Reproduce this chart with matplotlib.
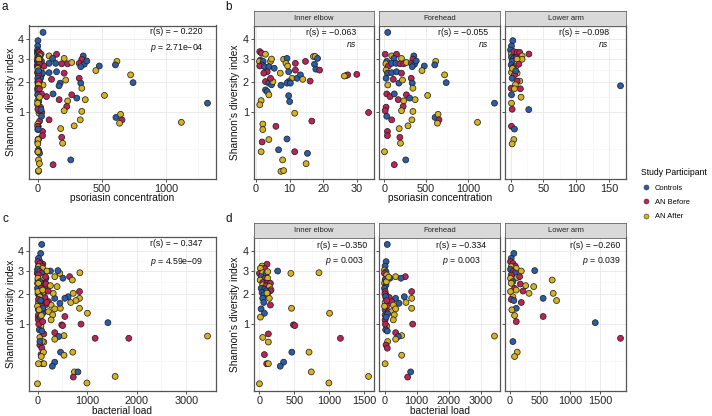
import numpy as np
import matplotlib.pyplot as plt
from matplotlib.lines import Line2D

plt.rcParams['font.family'] = ['Liberation Sans', 'DejaVu Sans']
plt.rcParams['mathtext.fontset'] = 'custom'
plt.rcParams['mathtext.it'] = 'Liberation Sans:italic'
plt.rcParams['mathtext.rm'] = 'Liberation Sans'

W, H = 712, 416

# grupos: C = Controls, B = AN Before, A = AN After
grupos = ['Controls', 'AN Before', 'AN After']
codigos = ['C', 'B', 'A']
colores = {'C': '#2A5CA8', 'B': '#BE2259', 'A': '#D6B21E'}

sitios = ['Inner elbow', 'Forehead', 'Lower arm']

# psoriasina (x) vs Shannon (y)
pso_elbow = [
    (1.1, 3.34, 'B'), (1.6, 3.26, 'B'), (2.8, 3.21, 'A'), (1.3, 2.93, 'C'), (1.0, 2.87, 'A'),
    (2.1, 2.87, 'C'), (1.8, 2.71, 'C'), (1.1, 2.66, 'B'), (2.5, 2.63, 'C'), (4.3, 2.87, 'A'),
    (4.6, 2.98, 'A'), (3.8, 2.63, 'C'), (5.4, 2.56, 'C'), (3.3, 2.41, 'B'), (2.3, 2.35, 'B'),
    (2.8, 2.01, 'B'), (3.8, 1.95, 'C'), (4.6, 1.89, 'C'), (5.0, 2.01, 'A'), (4.3, 2.14, 'B'),
    (2.8, 1.70, 'C'), (3.3, 1.64, 'C'), (3.8, 1.53, 'A'), (1.5, 1.34, 'A'), (1.1, 1.21, 'A'),
    (8.2, 2.97, 'A'), (9.2, 3.01, 'C'), (8.9, 2.78, 'A'), (9.4, 2.66, 'A'), (11.7, 2.78, 'B'),
    (11.7, 2.48, 'B'), (9.7, 2.41, 'C'), (7.2, 2.35, 'A'), (10.7, 2.14, 'A'), (9.7, 2.01, 'C'),
    (9.2, 1.95, 'C'), (10.2, 1.95, 'C'), (12.2, 2.14, 'C'), (13.2, 2.28, 'C'), (13.9, 2.10, 'A'),
    (7.4, 1.87, 'C'), (9.7, 1.50, 'C'), (10.0, 1.31, 'C'), (11.5, 0.97, 'A'), (14.7, 2.87, 'B'),
    (17.1, 3.10, 'A'), (17.6, 3.10, 'A'), (18.3, 3.01, 'C'), (17.4, 2.74, 'C'), (17.8, 2.52, 'C'),
    (18.9, 2.48, 'B'), (16.1, 2.03, 'B'), (16.6, 0.77, 'B'), (26.8, 2.25, 'B'), (27.3, 2.28, 'B'),
    (26.3, 2.23, 'A'), (30.0, 2.30, 'B'), (33.5, 0.99, 'B'), (2.0, 0.70, 'A'), (2.0, 0.58, 'A'),
    (5.9, 0.65, 'B'), (3.8, 0.39, 'A'), (1.8, 0.35, 'B'), (1.5, 0.21, 'A'), (9.2, 0.40, 'C'),
    (6.7, 0.235, 'C'), (7.9, 0.12, 'A'), (11.5, 0.21, 'B'), (15.3, 0.19, 'C'), (14.9, 0.087, 'A'),
    (7.4, 0.036, 'A'), (8.2, 0.04, 'A'),
]
pso_forehead = [
    (43, 4.37, 'C'), (12, 3.21, 'B'), (90, 3.13, 'A'), (148, 3.21, 'B'), (117, 3.01, 'C'),
    (207, 3.01, 'A'), (355, 3.13, 'C'), (344, 2.97, 'B'), (31, 2.87, 'C'), (20, 2.76, 'A'),
    (51, 2.66, 'B'), (90, 2.78, 'C'), (141, 2.78, 'C'), (188, 2.76, 'B'), (234, 2.76, 'B'),
    (266, 2.82, 'A'), (324, 2.78, 'B'), (363, 2.74, 'C'), (383, 2.89, 'C'), (336, 2.63, 'C'),
    (480, 2.66, 'C'), (453, 2.46, 'A'), (617, 2.87, 'A'), (605, 2.71, 'C'), (723, 2.28, 'A'),
    (742, 1.97, 'C'), (23, 2.48, 'A'), (39, 2.35, 'C'), (90, 2.37, 'C'), (148, 2.41, 'C'),
    (207, 2.35, 'B'), (23, 2.14, 'C'), (43, 1.88, 'A'), (109, 2.10, 'B'), (176, 1.95, 'C'),
    (324, 2.14, 'B'), (336, 1.95, 'C'), (219, 2.07, 'A'), (344, 1.76, 'A'), (31, 1.56, 'B'),
    (70, 1.47, 'B'), (121, 1.56, 'C'), (168, 1.37, 'B'), (234, 1.33, 'A'), (266, 1.53, 'B'),
    (305, 1.42, 'C'), (371, 1.37, 'A'), (227, 1.16, 'B'), (207, 1.04, 'A'), (344, 1.02, 'A'),
    (23, 1.14, 'B'), (12, 1.04, 'B'), (31, 0.89, 'C'), (90, 0.80, 'B'), (332, 0.80, 'A'),
    (285, 0.66, 'A'), (180, 0.60, 'A'), (39, 0.54, 'B'), (39, 0.46, 'B'), (188, 0.43, 'B'),
    (195, 0.33, 'A'), (4, 0.21, 'A'), (121, 0.079, 'B'), (258, 0.12, 'C'), (520, 1.51, 'A'),
    (609, 0.86, 'C'), (645, 0.94, 'A'), (656, 0.80, 'B'), (637, 0.72, 'A'), (1117, 0.74, 'A'),
    (1320, 1.26, 'C'),
]
pso_lowerarm = [
    (3.5, 3.91, 'C'), (1.5, 3.63, 'C'), (0, 3.42, 'C'), (1.5, 3.22, 'A'), (5, 3.34, 'B'),
    (10, 3.30, 'B'), (14, 3.30, 'B'), (28, 3.22, 'B'), (17.6, 3.13, 'A'), (17.6, 2.97, 'A'),
    (1.5, 3.06, 'C'), (5, 3.01, 'C'), (8.6, 3.04, 'B'), (2.5, 2.87, 'C'), (10, 2.97, 'A'),
    (1, 2.71, 'C'), (7.5, 2.63, 'A'), (12.6, 2.74, 'B'), (5, 2.48, 'C'), (1.5, 2.38, 'A'),
    (10, 2.35, 'A'), (6, 2.28, 'B'), (2.5, 2.14, 'C'), (14, 2.03, 'A'), (10, 2.03, 'B'),
    (7.5, 1.89, 'A'), (1, 1.76, 'B'), (6, 1.74, 'A'), (15, 1.74, 'B'), (1.5, 1.53, 'C'),
    (16, 1.45, 'A'), (1.5, 1.26, 'A'), (2.5, 1.08, 'B'), (27.7, 1.07, 'C'), (167, 1.85, 'C'),
    (1.5, 0.65, 'B'), (6, 0.59, 'C'), (5, 0.39, 'A'), (2.5, 0.32, 'A'), (4, 2.60, 'B'),
    (3, 2.55, 'A'), (8, 2.45, 'C'),
]

# carga bacteriana (x) vs Shannon (y)
bac_elbow = [
    (109, 3.31, 'B'), (38, 3.22, 'A'), (71, 3.11, 'B'), (14, 3.11, 'A'), (261, 2.98, 'C'),
    (451, 2.87, 'A'), (855, 2.90, 'A'), (0, 2.87, 'B'), (47, 2.90, 'A'), (95, 2.87, 'C'),
    (119, 2.95, 'A'), (24, 2.72, 'C'), (81, 2.65, 'B'), (119, 2.65, 'A'), (9.5, 2.57, 'A'),
    (47, 2.46, 'B'), (109, 2.43, 'B'), (157, 2.43, 'B'), (47, 2.36, 'A'), (95, 2.33, 'B'),
    (142, 2.29, 'A'), (166, 2.16, 'A'), (157, 2.12, 'B'), (24, 2.22, 'C'), (71, 2.18, 'C'),
    (95, 2.12, 'C'), (38, 2.05, 'C'), (119, 2.03, 'C'), (62, 1.96, 'C'), (47, 1.83, 'C'),
    (109, 2.03, 'A'), (142, 1.83, 'A'), (157, 1.59, 'B'), (62, 1.68, 'C'), (24, 1.46, 'C'),
    (71, 1.32, 'C'), (14, 1.20, 'A'), (461, 1.48, 'A'), (1007, 1.32, 'A'), (489, 0.98, 'B'),
    (508, 0.96, 'B'), (47, 0.67, 'A'), (128, 0.75, 'B'), (128, 0.57, 'A'), (1163, 0.65, 'B'),
    (71, 0.34, 'B'), (104, 0.21, 'B'), (128, 0.21, 'A'), (465, 0.38, 'C'), (347, 0.23, 'C'),
    (299, 0.18, 'C'), (712, 0.38, 'A'), (745, 0.12, 'A'), (997, 0.038, 'A'), (1567, 0.081, 'A'),
    (0, 0.034, 'A'),
]
bac_forehead = [
    (86, 4.37, 'C'), (50, 3.44, 'C'), (19, 3.22, 'C'), (0, 3.03, 'A'), (47, 2.95, 'C'),
    (0, 2.87, 'B'), (68, 2.80, 'A'), (348, 2.72, 'A'), (649, 2.72, 'B'), (514, 2.65, 'C'),
    (171, 2.65, 'C'), (19, 2.57, 'B'), (0, 2.43, 'A'), (47, 2.36, 'C'), (0, 2.22, 'C'),
    (19, 2.09, 'B'), (847, 2.09, 'B'), (47, 1.96, 'C'), (47, 1.83, 'A'), (618, 1.89, 'C'),
    (847, 1.83, 'A'), (151, 1.86, 'B'), (348, 1.83, 'C'), (223, 1.71, 'B'), (670, 1.68, 'A'),
    (452, 1.65, 'C'), (275, 1.59, 'A'), (19, 1.68, 'A'), (68, 1.56, 'B'), (19, 1.43, 'C'),
    (120, 1.37, 'B'), (223, 1.37, 'A'), (348, 1.46, 'A'), (19, 1.27, 'B'), (99, 1.30, 'C'),
    (306, 1.27, 'A'), (847, 1.48, 'A'), (19, 1.12, 'B'), (275, 1.12, 'A'), (878, 1.00, 'B'),
    (68, 0.95, 'A'), (36, 0.85, 'C'), (88, 0.82, 'C'), (348, 0.78, 'B'), (535, 0.71, 'A'),
    (431, 0.69, 'C'), (348, 0.63, 'A'), (99, 0.58, 'A'), (47, 0.51, 'B'), (88, 0.45, 'B'),
    (535, 0.33, 'A'), (19, 0.21, 'A'), (816, 0.12, 'C'), (722, 0.076, 'B'), (3430, 0.70, 'A'),
    (30, 2.60, 'C'), (60, 2.50, 'A'), (10, 2.00, 'B'), (35, 1.90, 'C'), (70, 1.75, 'B'),
    (0, 1.55, 'A'), (50, 1.20, 'C'), (25, 1.00, 'B'), (130, 2.70, 'A'),
]
bac_lowerarm = [
    (64, 3.87, 'C'), (20, 3.61, 'C'), (8, 3.44, 'B'), (48, 3.35, 'B'), (87, 3.22, 'B'),
    (20, 3.19, 'A'), (104, 3.11, 'A'), (8, 3.06, 'C'), (48, 2.95, 'B'), (188, 2.98, 'A'),
    (412, 3.00, 'C'), (87, 2.87, 'C'), (20, 2.80, 'B'), (115, 2.68, 'A'), (160, 2.72, 'B'),
    (8, 2.65, 'A'), (48, 2.50, 'C'), (20, 2.43, 'A'), (171, 2.40, 'B'), (261, 2.33, 'A'),
    (395, 2.29, 'A'), (703, 2.57, 'A'), (76, 2.22, 'B'), (8, 2.09, 'A'), (104, 2.15, 'A'),
    (317, 2.02, 'A'), (720, 2.02, 'A'), (216, 2.11, 'B'), (48, 1.89, 'A'), (20, 1.79, 'B'),
    (64, 1.75, 'C'), (552, 1.83, 'C'), (776, 1.75, 'A'), (188, 1.68, 'B'), (104, 1.48, 'C'),
    (31, 1.43, 'A'), (76, 1.25, 'A'), (552, 1.22, 'B'), (104, 1.07, 'B'), (1421, 1.04, 'C'),
    (1842, 0.65, 'B'), (48, 0.58, 'C'), (120, 0.38, 'A'), (76, 0.31, 'A'),
]

# ticks de cada panel
yticks = [1, 2, 3, 4]
xt_a = [0, 500, 1000]
xt_b = [[0, 10, 20, 30], [0, 500, 1000], [0, 50, 100, 150]]
xt_c = [0, 1000, 2000, 3000]
xt_d = [[0, 500, 1000, 1500], [0, 1000, 2000, 3000], [0, 500, 1000, 1500]]

# textos de Spearman
txt_a = ['r(s) = − 0.220', r'$p$ = 2.71e−04']
txt_b = [['r(s) = −0.063', 'ns'], ['r(s) = −0.055', 'ns'], ['r(s) = −0.098', 'ns']]
txt_c = ['r(s) = − 0.347', r'$p$ = 4.59e−09']
txt_d = [['r(s) = −0.350', r'$p$ = 0.003'], ['r(s) = −0.334', r'$p$ = 0.003'],
         ['r(s) = −0.260', r'$p$ = 0.039']]


def rect(x0, y0, x1, y1):
    return [x0 / W, 1 - y1 / H, (x1 - x0) / W, (y1 - y0) / H]


def fwd(v):
    return np.sqrt(np.clip(v, 0, None))


def inv(s):
    return np.square(s)


def minores(t, lo, hi):
    d = t[1] - t[0]
    m = [v + d / 2 for v in [t[0] - d] + list(t)]
    return [v for v in m if lo < v < hi]


def panel(ax, pts, xt, ylab=False):
    x, y, g = zip(*pts)
    ax.set_yscale('function', functions=(fwd, inv))
    ax.scatter(x, y, c=[colores[k] for k in g], s=18, edgecolors='#222222',
               linewidths=0.55, zorder=3)
    lo, hi = min(x), max(x)
    pad = 0.05 * (hi - lo)
    ax.set_xticks(xt)
    ax.set_xticks(minores(xt, lo - pad, hi + pad), minor=True)
    ax.set_xlim(lo - pad, hi + pad)
    ax.set_yticks(yticks)
    ax.set_yticks([0.25, 1.457, 2.475, 3.482], minor=True)
    ax.set_ylim(0.092 ** 2, 2.185 ** 2)
    if not ylab:
        ax.set_yticklabels([])
        ax.tick_params(axis='y', which='major', length=0)
    ax.grid(which='major', color='#EBEBEB', lw=0.7)
    ax.grid(which='minor', color='#F3F3F3', lw=0.4)
    ax.set_axisbelow(True)
    ax.tick_params(which='minor', length=0)
    ax.tick_params(which='major', length=2.5, width=0.6, color='#333333',
                   labelsize=7.8, pad=1.2, labelcolor='#222222')
    for s in ax.spines.values():
        s.set_color('#555555')
        s.set_linewidth(0.9)


def etiquetas(ax, textos, xr, y1, y2):
    ax.text(xr[0], 1 - y1, textos[0], transform=ax.transAxes, ha='right', va='center',
            fontsize=6.3, color='#111111', zorder=5)
    estilo = 'italic' if textos[1] == 'ns' else 'normal'
    ax.text(xr[1], 1 - y2, textos[1], transform=ax.transAxes, ha='right', va='center',
            fontsize=6.3, color='#111111', fontstyle=estilo, zorder=5)


def tira(fig, x0, x1, y0, y1, nombre):
    sax = fig.add_axes(rect(x0, y0, x1, y1))
    sax.set_facecolor('#D9D9D9')
    sax.set_xticks([])
    sax.set_yticks([])
    for s in sax.spines.values():
        s.set_color('#666666')
        s.set_linewidth(0.6)
    sax.text(0.5, 0.5, nombre, transform=sax.transAxes, ha='center', va='center',
             fontsize=5.5, color='#222222')


fig = plt.figure(figsize=(W / 100, H / 100), dpi=100)

filas = [(25.5, 178.5, 11.0), (237.5, 390.5, 223.0)]
facetas = [(254, 374), (379, 500), (505, 626)]

datos_b = [pso_elbow, pso_forehead, pso_lowerarm]
datos_d = [bac_elbow, bac_forehead, bac_lowerarm]

pos_b = [((0.85, 0.85), 0.044, 0.123), ((0.90, 0.90), 0.044, 0.123), ((0.86, 0.855), 0.044, 0.123)]
pos_d = [((0.944, 0.91), 0.054, 0.154), ((0.884, 0.84), 0.054, 0.154), ((0.955, 0.955), 0.054, 0.154)]

for fila, (top, bot, stop) in enumerate(filas):
    todos = datos_b if fila == 0 else datos_d
    # panel combinado (a / c)
    ax = fig.add_axes(rect(29, top, 216, bot))
    panel(ax, pso_elbow + pso_forehead + pso_lowerarm if fila == 0 else
          bac_elbow + bac_forehead + bac_lowerarm,
          xt_a if fila == 0 else xt_c, ylab=True)
    ax.set_ylabel('Shannon diversity index', fontsize=7.3, color='#111111')
    ax.yaxis.set_label_coords((16.5 - 29) / 187, 0.5)
    if fila == 0:
        etiquetas(ax, txt_a, (0.93, 0.935), 0.042, 0.147)
    else:
        etiquetas(ax, txt_c, (0.927, 0.93), 0.038, 0.158)

    # facetas (b / d)
    for i, (x0, x1) in enumerate(facetas):
        fax = fig.add_axes(rect(x0, top, x1, bot))
        panel(fax, todos[i], xt_b[i] if fila == 0 else xt_d[i], ylab=(i == 0))
        tira(fig, x0, x1, stop, top, sitios[i])
        if i == 0:
            fax.set_ylabel("Shannon's diversity index", fontsize=7.3, color='#111111')
            fax.yaxis.set_label_coords((239.5 - 254) / 120, 0.5)
        if fila == 0:
            xr, y1, y2 = pos_b[i]
            etiquetas(fax, txt_b[i], xr, y1, y2)
        else:
            xr, y1, y2 = pos_d[i]
            etiquetas(fax, txt_d[i], xr, y1, y2)

# titulos de los ejes x
xlab = ['psoriasin concentration', 'bacterial load']
for fila, yy in enumerate([198, 411]):
    fig.text(122.5 / W, 1 - yy / H, xlab[fila], ha='center', va='center', fontsize=7.3, color='#111111')
    fig.text(440 / W, 1 - yy / H, xlab[fila], ha='center', va='center', fontsize=7.3, color='#111111')

# letras de los paneles
for letra, (lx, ly) in zip('abcd', [(5, 7), (229, 7), (5, 219), (229, 219)]):
    fig.text(lx / W, 1 - ly / H, letra, ha='center', va='center', fontsize=8.5, color='#111111')

# leyenda
manijas = [Line2D([], [], marker='o', ls='', markersize=3.6, markerfacecolor=colores[c],
                  markeredgecolor='#333333', markeredgewidth=0.4) for c in codigos]
ley = fig.legend(manijas, grupos, loc='upper left', bbox_to_anchor=(636 / W, 1 - 163 / H),
                 frameon=False, title='Study Participant', fontsize=5.4, title_fontsize=6.2,
                 labelspacing=0.95, handletextpad=0.6, handlelength=1.2, alignment='left',
                 borderpad=0.2)

fig.savefig('out.png', dpi=100)
